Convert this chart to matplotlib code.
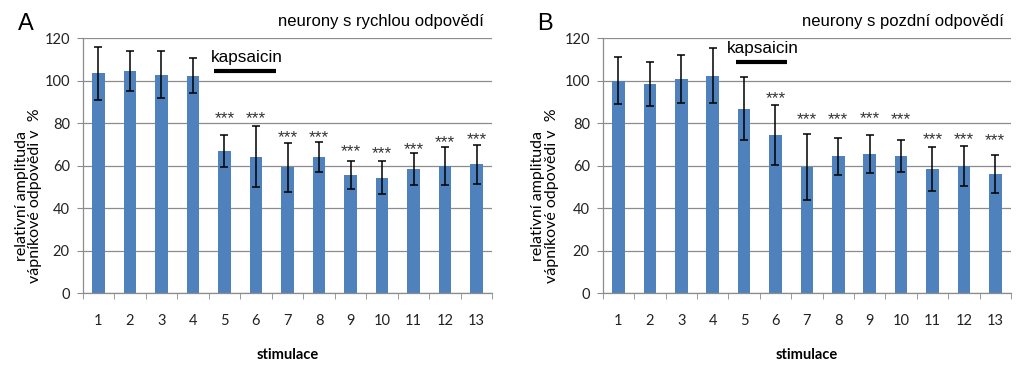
import matplotlib
matplotlib.use("Agg")
import matplotlib.pyplot as plt
import numpy as np

# ---------------- data ----------------
stimulace = list(range(1, 14))
tick_labels = [str(s) for s in stimulace]

fast_mean = [103.5, 104.8, 102.9, 102.4, 67.0, 64.3, 59.4, 64.3, 55.5, 54.4, 58.5, 59.9, 60.7]
fast_err = [12.5, 9.4, 11.0, 8.2, 7.6, 14.3, 11.5, 7.0, 6.6, 7.7, 7.5, 9.1, 9.1]
fast_star_levels = [None, None, None, None, 84.8, 84.8, 76.0, 76.0, 69.3, 68.3, 70.5, 73.6, 75.0]

late_mean = [100.0, 98.6, 100.8, 102.4, 86.9, 74.4, 59.4, 64.5, 65.5, 64.5, 58.5, 59.9, 56.0]
late_err = [11.0, 10.4, 11.3, 13.0, 14.8, 14.2, 15.4, 8.7, 8.8, 7.6, 10.3, 9.3, 8.9]
late_star_levels = [None, None, None, None, None, 94.4, 84.7, 84.7, 85.2, 84.7, 75.3, 75.3, 74.5]

# kapsaicin bar span (in stimulus units) and height
fast_caps = dict(x0=4.68, x1=6.62, y=104.6, text_x=5.7, text_y=111.0)
late_caps = dict(x0=4.76, x1=6.38, y=108.7, text_x=5.59, text_y=115.3)

panels = [
    dict(letter="A", title="neurony s rychlou odpovědí", mean=fast_mean, err=fast_err,
         stars=fast_star_levels, caps=fast_caps),
    dict(letter="B", title="neurony s pozdní odpovědí", mean=late_mean, err=late_err,
         stars=late_star_levels, caps=late_caps),
]

W, H = 1024, 369
fig = plt.figure(figsize=(W / 100, H / 100), dpi=100)

bar_color = "#4F81BD"
grid_color = "#8C8C8C"
axis_color = "#8C8C8C"
tick_font = "Lato"
arial = "Liberation Sans"

ax_left_px = [82.7, 602.7]
ax_width_px = [409.6, 408.3]
ax_top_px, ax_bot_px = 38.3, 293.3

for i, p in enumerate(panels):
    l = ax_left_px[i] / W
    b = 1 - ax_bot_px / H
    w = ax_width_px[i] / W
    h = (ax_bot_px - ax_top_px) / H
    ax = fig.add_axes([l, b, w, h])
    x = np.array(stimulace)
    ax.bar(x, p["mean"], width=0.4, color=bar_color, zorder=2)
    ax.errorbar(x, p["mean"], yerr=p["err"], fmt="none", ecolor="black",
                elinewidth=1.1, capsize=3, capthick=1.1, zorder=3)
    ax.set_xlim(0.5, 13.5)
    ax.set_ylim(0, 120)
    ax.set_yticks(np.arange(0, 121, 20))
    ax.yaxis.grid(True, color=grid_color, linewidth=0.9, zorder=0)
    ax.set_axisbelow(True)
    for s in ["top", "right"]:
        ax.spines[s].set_visible(False)
    for s in ["left", "bottom"]:
        ax.spines[s].set_color(axis_color)
        ax.spines[s].set_linewidth(0.9)
    ax.set_xticks(x)
    ax.set_xticklabels(tick_labels, fontfamily=tick_font, fontsize=10.5, color="#222222")
    ax.set_xticks(np.arange(0.5, 13.6, 1.0), minor=True)
    ax.tick_params(axis="x", which="major", length=0, pad=15)
    ax.tick_params(axis="x", which="minor", length=4, color=axis_color, direction="out")
    ax.tick_params(axis="y", length=4.3, color=axis_color, direction="out", pad=5,
                   labelsize=10.5, labelcolor="#222222")
    for t in ax.get_yticklabels():
        t.set_fontfamily(tick_font)
    ax.set_xlabel("stimulace", fontfamily=tick_font, fontweight="bold", fontsize=10.5,
                  labelpad=14)

    # significance stars
    for xi, sy in zip(x, p["stars"]):
        if sy is not None:
            ax.annotate("***", xy=(xi, sy), xytext=(0, -7.5), textcoords="offset points",
                        ha="center", va="baseline", fontsize=12.5, fontfamily=arial,
                        color="#333333")

    # kapsaicin bar
    c = p["caps"]
    ax.plot([c["x0"], c["x1"]], [c["y"], c["y"]], color="black", linewidth=3,
            solid_capstyle="butt", clip_on=False, zorder=4)
    ax.text(c["text_x"], c["text_y"], "kapsaicin", ha="center", va="center",
            fontsize=12.3, fontfamily=arial)

    # titles
    right_px = [484, 1004][i]
    fig.text(right_px / W, 1 - 21.7 / H, p["title"], ha="right", va="center",
             fontsize=12, fontfamily=arial)
    letter_px = [26, 545][i]
    fig.text(letter_px / W, 1 - 24 / H, p["letter"], ha="center", va="center",
             fontsize=17, fontfamily=arial)

    # y label (two lines)
    ylab_px = [28.5, 545][i]
    fig.text(ylab_px / W, 1 - 196 / H, "relativní amplituda\nvápníkové odpovědi v  %",
             rotation=90, ha="center", va="center", multialignment="center",
             fontsize=11.5, fontfamily=tick_font, linespacing=0.95)

fig.savefig("out.png", dpi=100)
